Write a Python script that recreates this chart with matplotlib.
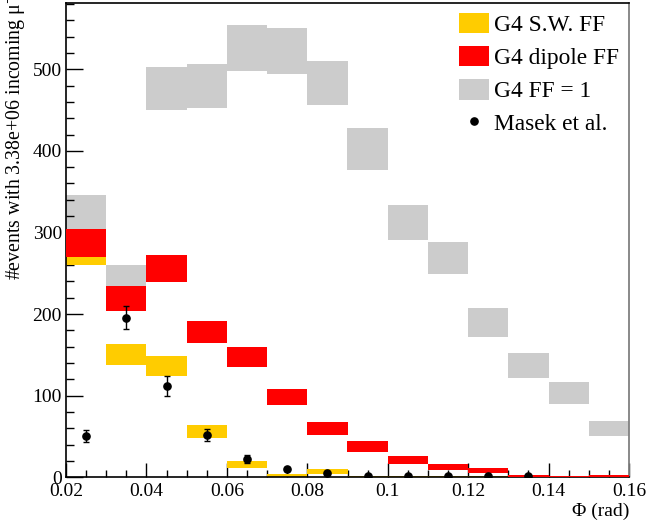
import matplotlib
matplotlib.use("Agg")
import matplotlib.pyplot as plt
from matplotlib.patches import Patch
from matplotlib.lines import Line2D
import numpy as np

plt.rcParams['font.family'] = ['Liberation Serif', 'DejaVu Serif']
plt.rcParams['mathtext.fontset'] = 'stix'

# ---- data ----
bin_edges = [0.02, 0.03, 0.04, 0.05, 0.06, 0.07, 0.08, 0.09, 0.10, 0.11, 0.12, 0.13, 0.14, 0.15, 0.16]

ff1_low  = [290, 222, 450, 453, 498, 494, 456, 377, 291, 249, 172, 122, 90, 51]
ff1_high = [346, 260, 502.5, 506, 554, 550.5, 510, 428, 334, 288, 207, 152, 117, 69]

dip_low  = [270, 204, 239, 164, 135, 88, 52, 31.4, 16, 9, 5.5, 0, 0, 0]
dip_high = [304, 235, 272, 191, 160, 108, 68, 45, 26, 16, 11.5, 3, 1.5, 2.5]

sw_low  = [260, 138, 124.5, 48.5, 11.4, 0.4, 4.4, 0, 0, 0, 0, 0, 0, 0]
sw_high = [270, 163, 149, 64, 20, 4, 10, 2, 1.5, 2, 1, 0, 0, 0]

masek_x   = [0.025, 0.035, 0.045, 0.055, 0.065, 0.075, 0.085, 0.095, 0.105, 0.115, 0.125, 0.135]
masek_y   = [50.6, 195.6, 112, 51.8, 22.4, 9.8, 5.3, 1, 1, 1, 1, 1]
masek_err = [7, 14, 12, 7, 5, 2.5, 1.5, 1, 1, 1, 1, 1]

xtick_vals = [0.02, 0.04, 0.06, 0.08, 0.10, 0.12, 0.14, 0.16]
xtick_labels = ["0.02", "0.04", "0.06", "0.08", "0.1", "0.12", "0.14", "0.16"]
ytick_vals = [0, 100, 200, 300, 400, 500]

c_gray = '#cccccc'
c_red = '#ff0000'
c_yel = '#ffcc00'

W, H = 648, 527
fig = plt.figure(figsize=(W/100, H/100), dpi=100)
ax = fig.add_axes([66/W, (H-477.3)/H, (629-66)/W, (477.3-2.7)/H])

def bands(low, high, color, z):
    for i in range(len(low)):
        if high[i] > low[i]:
            ax.bar(bin_edges[i], high[i]-low[i], width=bin_edges[i+1]-bin_edges[i],
                   bottom=low[i], align='edge', color=color, linewidth=0, zorder=z)

bands(ff1_low, ff1_high, c_gray, 1)
bands(sw_low, sw_high, c_yel, 2)
bands(dip_low, dip_high, c_red, 3)

ax.errorbar(masek_x, masek_y, yerr=masek_err, fmt='o', color='black', ms=5.2,
            elinewidth=1, capsize=2, capthick=1, zorder=5)

ax.set_xlim(0.02, 0.16)
ax.set_ylim(0, 581.5)

ax.set_xticks(xtick_vals)
ax.set_xticklabels(xtick_labels)
ax.set_xticks(np.arange(0.02, 0.1601, 0.005), minor=True)
ax.set_yticks(ytick_vals)
ax.set_yticks(np.arange(0, 581, 20), minor=True)

ax.tick_params(axis='both', which='both', direction='in', top=False, right=False,
               labelsize=14, color='black', width=1)
ax.tick_params(axis='y', which='major', length=12, pad=3)
ax.tick_params(axis='y', which='minor', length=6)
ax.tick_params(axis='x', which='major', length=10, pad=4)
ax.tick_params(axis='x', which='minor', length=5)

for s in ['left', 'bottom', 'top']:
    ax.spines[s].set_color('black')
    ax.spines[s].set_linewidth(1.2)
ax.spines['right'].set_color('#808080')
ax.spines['right'].set_linewidth(1.3)

fig.text(629/W, 1 - 511/H, "Φ (rad)", ha='right', va='center', fontsize=14)
fig.text(16/W, 1 + 7/H, "#events with 3.38e+06 incoming μ$^{-}$", rotation=90,
         ha='center', va='top', fontsize=14.3)

handles = [Patch(facecolor=c_yel, edgecolor='none'),
           Patch(facecolor=c_red, edgecolor='none'),
           Patch(facecolor=c_gray, edgecolor='none'),
           Line2D([], [], marker='o', color='black', linestyle='none', ms=5.2)]
labels = ["G4 S.W. FF", "G4 dipole FF", "G4 FF = 1", "Masek et al."]
fig.legend(handles, labels, loc='upper left', bbox_to_anchor=(459/W, 1 - 12.5/H),
           frameon=False, fontsize=16.8, borderpad=0, borderaxespad=0,
           handlelength=1.29, handleheight=0.99, labelspacing=0.42, handletextpad=0.21)

fig.savefig("out.png", dpi=100)
